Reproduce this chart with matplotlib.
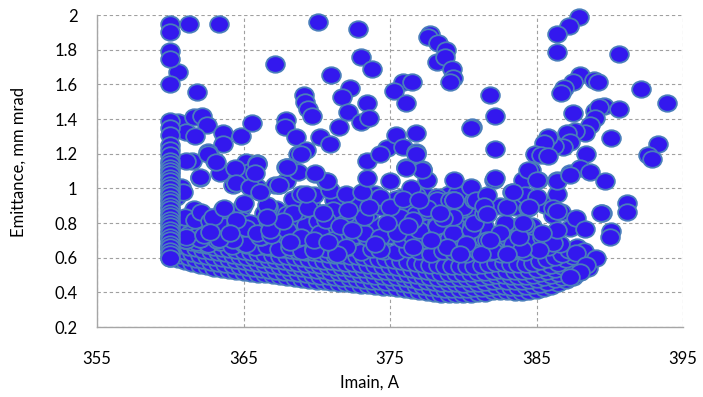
import matplotlib
matplotlib.use("Agg")
import matplotlib.pyplot as plt
from matplotlib.path import Path
from matplotlib.transforms import Affine2D

# ---------------- data ----------------
# column of measurements at Imain = 360 A
col360_y = [1.95, 1.90, 1.79, 1.745, 1.60, 1.39, 1.35, 1.31, 1.25, 1.22, 1.19, 1.16,
            1.14, 1.12, 1.10, 1.08, 1.06, 1.04, 1.02, 1.00, 0.98, 0.96, 0.94, 0.92,
            0.90, 0.88, 0.86, 0.84, 0.82, 0.80, 0.78, 0.76, 0.74, 0.72, 0.70, 0.68,
            0.66, 0.64, 0.62, 0.60]

# dense band, x grids
band_xa = [360.0, 360.5, 361.0, 361.5, 362.0, 362.5, 363.0, 363.5, 364.0, 364.5,
           365.0, 365.5, 366.0, 366.5, 367.0, 367.5, 368.0, 368.5, 369.0, 369.5,
           370.0, 370.5, 371.0, 371.5, 372.0, 372.5, 373.0, 373.5, 374.0, 374.5,
           375.0, 375.5, 376.0, 376.5, 377.0, 377.5, 378.0, 378.5, 379.0, 379.5,
           380.0, 380.5, 381.0, 381.5, 382.0, 382.5, 383.0, 383.5, 384.0, 384.5,
           385.0, 385.5, 386.0, 386.5, 387.0, 387.5, 388.0, 388.5]
band_xb = [360.25, 360.75, 361.25, 361.75, 362.25, 362.75, 363.25, 363.75, 364.25,
           364.75, 365.25, 365.75, 366.25, 366.75, 367.25, 367.75, 368.25, 368.75,
           369.25, 369.75, 370.25, 370.75, 371.25, 371.75, 372.25, 372.75, 373.25,
           373.75, 374.25, 374.75, 375.25, 375.75, 376.25, 376.75, 377.25, 377.75,
           378.25, 378.75, 379.25, 379.75, 380.25, 380.75, 381.25, 381.75, 382.25,
           382.75, 383.25, 383.75, 384.25, 384.75, 385.25, 385.75, 386.25, 386.75,
           387.25, 387.75, 388.25]

band_r1 = [0.600, 0.590, 0.578, 0.568, 0.558, 0.550, 0.543, 0.537, 0.530, 0.524,
           0.518, 0.513, 0.508, 0.503, 0.498, 0.493, 0.488, 0.483, 0.478, 0.473,
           0.468, 0.464, 0.460, 0.456, 0.452, 0.448, 0.444, 0.440, 0.437, 0.433,
           0.430, 0.425, 0.420, 0.414, 0.408, 0.402, 0.397, 0.393, 0.391, 0.390,
           0.390, 0.392, 0.395, 0.398, 0.405, 0.410, 0.405, 0.402, 0.403, 0.408,
           0.415, 0.425, 0.438, 0.452, 0.470, 0.490, 0.515, 0.540]
band_r2 = [0.625, 0.614, 0.603, 0.593, 0.584, 0.576, 0.570, 0.563, 0.557, 0.551,
           0.545, 0.540, 0.535, 0.530, 0.525, 0.520, 0.515, 0.510, 0.505, 0.500,
           0.496, 0.492, 0.488, 0.484, 0.480, 0.476, 0.472, 0.468, 0.465, 0.461,
           0.457, 0.452, 0.447, 0.441, 0.435, 0.429, 0.425, 0.422, 0.420, 0.420,
           0.421, 0.423, 0.426, 0.431, 0.437, 0.437, 0.433, 0.432, 0.435, 0.441,
           0.450, 0.462, 0.475, 0.491, 0.510, 0.533, 0.558]
band_r3 = [0.655, 0.648, 0.636, 0.628, 0.617, 0.610, 0.602, 0.598, 0.590, 0.584,
           0.578, 0.575, 0.568, 0.565, 0.557, 0.554, 0.548, 0.545, 0.538, 0.535,
           0.528, 0.526, 0.520, 0.518, 0.512, 0.510, 0.504, 0.502, 0.497, 0.495,
           0.490, 0.487, 0.480, 0.476, 0.468, 0.464, 0.457, 0.455, 0.451, 0.452,
           0.450, 0.454, 0.455, 0.460, 0.465, 0.472, 0.465, 0.464, 0.463, 0.470,
           0.475, 0.487, 0.498, 0.514, 0.530, 0.552, 0.575, 0.602]
band_r4 = [0.690, 0.675, 0.664, 0.655, 0.645, 0.638, 0.630, 0.625, 0.617, 0.612,
           0.605, 0.601, 0.595, 0.591, 0.585, 0.581, 0.575, 0.571, 0.565, 0.562,
           0.556, 0.553, 0.548, 0.545, 0.540, 0.537, 0.532, 0.529, 0.525, 0.522,
           0.517, 0.513, 0.507, 0.502, 0.495, 0.490, 0.485, 0.483, 0.480, 0.481,
           0.481, 0.484, 0.486, 0.492, 0.498, 0.500, 0.495, 0.494, 0.496, 0.502,
           0.510, 0.523, 0.536, 0.553, 0.572, 0.594, 0.618]
band_r5 = [0.720, 0.712, 0.700, 0.690, 0.680, 0.672, 0.664, 0.657, 0.650, 0.644,
           0.638, 0.633, 0.628, 0.622, 0.617, 0.612, 0.607, 0.602, 0.598, 0.592,
           0.588, 0.583, 0.580, 0.575, 0.572, 0.567, 0.564, 0.560, 0.557, 0.553,
           0.550, 0.545, 0.540, 0.535, 0.528, 0.523, 0.517, 0.514, 0.511, 0.510,
           0.510, 0.513, 0.515, 0.520, 0.525, 0.530, 0.525, 0.523, 0.523, 0.528,
           0.535, 0.546, 0.558, 0.572, 0.590, 0.610, 0.632, 0.575]
band_r6 = [0.760, 0.745, 0.735, 0.725, 0.715, 0.708, 0.700, 0.695, 0.687, 0.682,
           0.675, 0.671, 0.665, 0.661, 0.655, 0.651, 0.645, 0.641, 0.635, 0.632,
           0.626, 0.623, 0.618, 0.615, 0.610, 0.607, 0.602, 0.599, 0.595, 0.592,
           0.587, 0.583, 0.577, 0.572, 0.565, 0.560, 0.555, 0.553, 0.550, 0.551,
           0.551, 0.554, 0.556, 0.562, 0.568, 0.570, 0.565, 0.564, 0.566, 0.572,
           0.580, 0.593, 0.606, 0.623, 0.642, 0.664, 0.640]

# overlapping circles just above the dense band
mid_a_x = [361.0, 361.8, 362.6, 363.4, 364.2, 365.0, 365.8, 366.6, 367.4, 368.2,
           369.0, 369.8, 370.6, 371.4, 372.2, 373.0, 373.8, 374.6, 375.4, 376.2,
           377.0, 377.8, 378.6, 379.4, 380.2, 381.0, 381.8, 382.6, 383.4, 384.2,
           385.0, 385.8, 386.6]
mid_a_y = [0.70, 0.69, 0.68, 0.69, 0.67, 0.68, 0.66, 0.67, 0.65, 0.66,
           0.64, 0.66, 0.65, 0.64, 0.66, 0.63, 0.65, 0.64, 0.63, 0.65,
           0.64, 0.62, 0.64, 0.63, 0.62, 0.64, 0.63, 0.62, 0.64, 0.63,
           0.65, 0.66, 0.68]
mid_b_x = [363.0, 363.8, 364.6, 365.4, 366.2, 367.0, 367.8, 368.6, 369.4, 370.2,
           371.0, 371.8, 372.6, 373.4, 374.2, 375.0, 375.8, 376.6, 377.4, 378.2,
           379.0, 379.8, 380.6, 381.4, 382.2, 383.0, 383.8, 384.6, 385.4]
mid_b_y = [0.74, 0.75, 0.73, 0.74, 0.72, 0.74, 0.73, 0.71, 0.73, 0.72,
           0.74, 0.71, 0.73, 0.72, 0.70, 0.73, 0.71, 0.72, 0.70, 0.72,
           0.71, 0.70, 0.72, 0.71, 0.70, 0.72, 0.73, 0.71, 0.72]
mid_c_x = [366.0, 366.9, 367.6, 368.5, 369.3, 370.1, 370.9, 372.6, 373.4, 374.2,
           375.0, 375.8, 376.6, 377.4, 378.2, 379.0, 379.8, 380.6, 381.4, 383.9,
           384.7]
mid_c_y = [0.79, 0.80, 0.78, 0.80, 0.79, 0.81, 0.78, 0.79, 0.81, 0.78,
           0.80, 0.79, 0.81, 0.79, 0.80, 0.78, 0.80, 0.79, 0.78, 0.79,
           0.78]
mid_d_x = [375.4, 376.2, 377.0, 377.8, 378.6, 379.4, 380.2, 375.8, 377.4, 379.0]
mid_d_y = [0.87, 0.89, 0.86, 0.88, 0.87, 0.89, 0.86, 0.95, 0.96, 0.97]
mid_e_x = [366.4, 367.2, 368.0, 368.8, 369.6, 370.4, 371.2, 372.0, 372.8, 373.6,
           374.4, 375.2, 376.0, 376.8, 377.6, 378.4, 379.2, 380.0, 380.8]
mid_e_y = [0.86, 0.88, 0.85, 0.87, 0.89, 0.86, 0.88, 0.85, 0.87, 0.86,
           0.89, 0.86, 0.88, 0.85, 0.87, 0.89, 0.86, 0.88, 0.87]
mid_f_x = [368.4, 369.8, 371.2, 372.6, 374.0, 375.4, 376.8, 378.2, 379.6]
mid_f_y = [0.94, 0.96, 0.93, 0.95, 0.97, 0.94, 0.96, 0.95, 0.97]

# individual circles above the dense band
upper_x = [361.6, 361.0, 361.7, 362.7, 363.6, 364.3, 363.85, 364.9, 364.9, 362.7,
           362.0, 361.1, 363.2, 364.1, 365.1, 365.45, 365.2, 366.1, 366.6, 366.7,
           365.9, 364.3, 362.0, 360.7, 360.4, 362.1, 362.7, 363.7, 364.5, 365.2,
           365.9, 366.9, 367.7, 364.3, 363.2, 362.0, 361.1, 367.95, 368.9, 370.2,
           371.1, 373.2, 374.3, 375.45, 377.0, 378.2, 379.3, 380.5, 369.8, 372.0,
           374.3, 376.6, 378.9, 380.2, 368.9, 370.9, 372.8, 374.3, 376.4, 378.2,
           380.0, 373.2, 375.7, 376.6, 379.3, 368.4, 371.1, 369.4, 366.6, 366.8,
           367.7, 367.4, 367.9, 370.6, 371.6, 372.4, 373.6, 375.0, 377.5, 378.6,
           380.7, 369.3, 372.0, 373.1, 375.9, 377.0, 379.1, 380.7, 372.15, 370.4,
           374.8, 376.2, 378.4, 379.4, 380.5, 382.5, 382.85, 381.4, 380.9, 383.5,
           384.4, 385.6, 386.1, 386.7, 387.3, 384.2, 382.5, 386.1, 385.2, 386.4,
           385.4, 381.6, 383.4, 384.0, 382.0, 383.0, 381.2, 379.8, 371.4, 369.8,
           368.2, 370.8, 374.0, 377.8, 381.8, 383.8]
upper_y = [0.880, 0.836, 0.817, 0.836, 0.880, 0.846, 0.800, 0.894, 0.820, 0.760,
           0.710, 0.700, 0.720, 0.740, 0.760, 0.800, 0.680, 0.720, 0.836, 0.894,
           1.010, 1.020, 1.060, 1.010, 0.950, 0.865, 0.810, 0.780, 0.790, 0.770,
           0.740, 0.730, 0.780, 0.700, 0.700, 0.710, 0.720, 0.760, 0.720, 0.740,
           0.700, 0.740, 0.720, 0.740, 0.760, 0.780, 0.740, 0.760, 0.645, 0.660,
           0.645, 0.660, 0.660, 0.680, 0.970, 0.990, 0.913, 0.950, 1.000, 0.930,
           0.894, 0.836, 0.836, 0.817, 0.836, 0.856, 0.875, 0.885, 0.904, 0.760,
           0.810, 1.020, 1.040, 0.820, 0.780, 0.760, 0.894, 0.894, 0.885, 0.827,
           0.800, 0.970, 0.970, 0.980, 0.940, 0.930, 0.930, 0.930, 0.875, 0.856,
           0.800, 0.780, 0.860, 0.930, 1.010, 0.900, 0.800, 0.856, 0.930, 0.894,
           0.885, 0.904, 0.846, 0.865, 0.770, 0.790, 0.740, 0.685, 0.645, 0.760,
           0.740, 0.700, 0.680, 0.650, 0.640, 0.620, 0.620, 0.620, 0.620, 0.700,
           0.690, 0.690, 0.680, 0.700, 0.700, 0.720]

# sparse high-emittance points
outer_x = [361.3, 363.3, 360.55, 361.8, 367.15, 360.5, 361.6, 362.2, 362.5, 361.1,
           361.7, 363.6, 363.6, 364.8, 365.6, 362.6, 363.05, 361.5, 362.0, 363.4,
           364.5, 365.2, 365.9, 365.4, 367.15, 370.1, 372.8, 373.0, 373.8, 371.0,
           372.3, 371.7, 372.1, 373.0, 373.4, 373.6, 369.1, 369.2, 369.4, 369.7,
           367.9, 367.8, 368.6, 370.2, 370.9, 371.5, 369.3, 368.7, 368.2, 368.7,
           369.9, 370.6, 373.4, 373.4, 374.8, 375.4, 375.9, 376.8, 376.8, 376.1,
           377.2, 377.5, 379.4, 375.9, 376.5, 375.3, 376.1, 377.7, 377.6, 378.3,
           378.8, 378.2, 378.75, 379.2, 379.3, 379.1, 380.6, 381.8, 382.2, 382.2,
           382.1, 387.9, 387.2, 386.4, 386.4, 390.6, 388.0, 387.5, 386.9, 386.7,
           388.9, 389.2, 392.1, 393.9, 387.5, 389.6, 390.6, 389.0, 389.3, 389.0,
           388.65, 388.3, 387.6, 390.1, 387.1, 387.3, 386.8, 386.2, 385.8, 385.5,
           384.9, 385.3, 385.8, 388.4, 393.3, 392.6, 392.9, 384.6, 384.1, 385.1,
           386.4, 387.3, 388.0, 388.65, 389.7, 383.3, 384.2, 385.0, 386.4, 383.0,
           384.5, 391.15, 391.15, 389.5, 386.1, 386.4, 387.7, 388.3, 390.1, 390.0,
           387.7, 389.05, 388.4, 388.0, 387.3, 381.6, 381.4, 381.6, 384.1, 382.2,
           383.4, 384.4, 385.0, 386.4, 387.3, 389.4, 380.5, 365.9, 366.1, 364.4,
           362.6, 363.1, 364.5, 365.45, 366.1, 367.9, 367.4, 365.8, 374.3, 375.0,
           376.8, 370.7, 369.9, 368.9, 367.95, 377.2, 376.1, 379.4, 362.9, 363.7,
           364.5, 365.0, 362.3, 363.3, 364.1, 362.7, 366.6, 361.1, 360.9]
outer_y = [1.950, 1.950, 1.670, 1.555, 1.717, 1.385, 1.410, 1.417, 1.365, 1.327,
           1.300, 1.320, 1.256, 1.300, 1.375, 1.210, 1.160, 1.157, 1.063, 1.087,
           1.030, 1.153, 1.144, 1.096, 1.020, 1.960, 1.917, 1.756, 1.690, 1.654,
           1.580, 1.525, 1.440, 1.384, 1.494, 1.404, 1.538, 1.500, 1.460, 1.420,
           1.394, 1.356, 1.294, 1.298, 1.256, 1.356, 1.220, 1.200, 1.125, 1.096,
           1.083, 1.040, 1.157, 1.058, 1.230, 1.308, 1.240, 1.317, 1.210, 1.125,
           1.110, 1.048, 1.048, 1.615, 1.615, 1.563, 1.490, 1.890, 1.875, 1.836,
           1.800, 1.730, 1.760, 1.690, 1.635, 1.615, 1.356, 1.540, 1.420, 1.225,
           1.048, 1.987, 1.937, 1.890, 1.785, 1.773, 1.654, 1.615, 1.580, 1.550,
           1.625, 1.615, 1.571, 1.490, 1.436, 1.475, 1.460, 1.448, 1.470, 1.404,
           1.365, 1.320, 1.330, 1.290, 1.317, 1.270, 1.240, 1.245, 1.298, 1.260,
           1.200, 1.190, 1.185, 1.200, 1.256, 1.190, 1.167, 1.106, 1.050, 1.048,
           1.048, 1.087, 1.115, 1.096, 1.040, 0.980, 0.960, 0.950, 0.970, 0.894,
           0.894, 0.913, 0.865, 0.856, 0.885, 0.870, 0.827, 0.764, 0.756, 0.720,
           0.625, 0.600, 0.557, 0.520, 0.490, 0.960, 0.900, 0.850, 0.800, 1.058,
           0.980, 1.106, 1.048, 1.040, 1.077, 0.856, 1.350, 1.140, 0.980, 1.115,
           1.200, 1.153, 1.030, 1.010, 0.980, 1.125, 1.020, 1.087, 1.200, 1.040,
           1.200, 1.040, 1.087, 1.200, 1.125, 1.106, 1.115, 0.930, 0.836, 0.885,
           0.817, 0.913, 0.730, 0.710, 0.740, 0.750, 0.836, 1.157, 0.980]

x_ticks = [355, 365, 375, 385, 395]
y_ticks = [0.2, 0.4, 0.6, 0.8, 1.0, 1.2, 1.4, 1.6, 1.8, 2.0]
y_tick_labels = ["0.2", "0.4", "0.6", "0.8", "1", "1.2", "1.4", "1.6", "1.8", "2"]

# ---------------- drawing ----------------
plt.rcParams['font.family'] = ['Lato', 'DejaVu Sans']

fig = plt.figure(figsize=(7.03, 3.97), dpi=100)
ax = fig.add_axes([97/703, 1 - 327/397, (683 - 97)/703, (327 - 15)/397])

ellipse = Path.unit_circle().transformed(Affine2D().scale(1.0, 0.88))
style = dict(linestyle='none', marker=ellipse, markersize=13.5,
             markerfacecolor='#3318EE', markeredgecolor='#4A7EBB',
             markeredgewidth=1.3, clip_on=False)

col360_x = [360.0] * len(col360_y)
ax.plot(band_xa, band_r1, **style)
ax.plot(band_xb, band_r2, **style)
ax.plot(band_xa, band_r3, **style)
ax.plot(band_xb, band_r4, **style)
ax.plot(band_xa, band_r5, **style)
ax.plot(band_xb, band_r6, **style)
ax.plot(mid_a_x, mid_a_y, **style)
ax.plot(mid_b_x, mid_b_y, **style)
ax.plot(mid_c_x, mid_c_y, **style)
ax.plot(mid_d_x, mid_d_y, **style)
ax.plot(mid_e_x, mid_e_y, **style)
ax.plot(mid_f_x, mid_f_y, **style)
ax.plot(upper_x, upper_y, **style)
ax.plot(outer_x, outer_y, **style)
ax.plot(col360_x, col360_y, **style)

ax.set_xlim(355, 395)
ax.set_ylim(0.2, 2.0)
ax.set_xticks(x_ticks)
ax.set_xticklabels([str(v) for v in x_ticks])
ax.set_yticks(y_ticks)
ax.set_yticklabels(y_tick_labels)
ax.tick_params(length=0, labelsize=12, colors='black')
ax.tick_params(axis='x', pad=17)
ax.tick_params(axis='y', pad=14)

ax.grid(True, color='#A0A0A0', linestyle=(0, (3, 2.5)), linewidth=0.8)
ax.set_axisbelow(True)
for s in ['top', 'right']:
    ax.spines[s].set_visible(False)
for s in ['left', 'bottom']:
    ax.spines[s].set_color('#A6A6A6')
    ax.spines[s].set_linewidth(1.0)

fig.text(369/703, 1 - 383/397, 'Imain, A', ha='center', va='center', fontsize=12)
fig.text(19/703, 1 - 162/397, 'Emittance, mm mrad', ha='center', va='center',
         rotation=90, fontsize=12)

fig.savefig('out.png', dpi=100)
